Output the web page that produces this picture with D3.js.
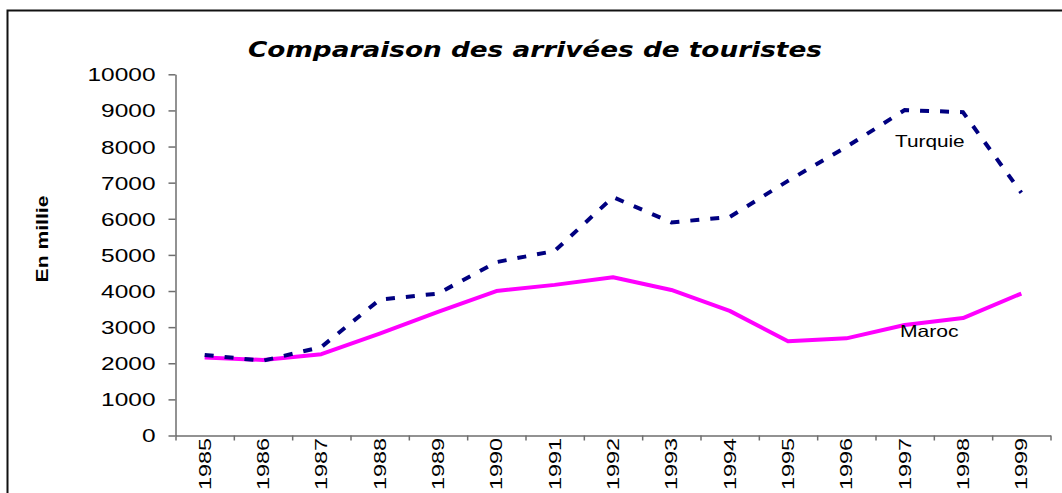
<!DOCTYPE html>
<html>
<head>
<meta charset="utf-8">
<script src="https://cdn.jsdelivr.net/npm/d3@7"></script>
<style>
  html, body { margin: 0; padding: 0; background: #fff; }
  svg { display: block; }
</style>
</head>
<body>
<svg id="chart" width="1062" height="493"></svg>
<script>
// ---- data ----
const years = ["1985","1986","1987","1988","1989","1990","1991","1992","1993","1994","1995","1996","1997","1998","1999"];
const turquie = [2230, 2070, 2450, 3760, 3930, 4800, 5110, 6600, 5900, 6050, 7050, 7990, 9010, 8950, 6720];
const maroc   = [2160, 2090, 2250, 2820, 3420, 4000, 4170, 4380, 4030, 3450, 2610, 2690, 3060, 3250, 3930];
const yTicks  = [0,1000,2000,3000,4000,5000,6000,7000,8000,9000,10000];
const titleText = "Comparaison des arrivées de touristes";
const yAxisTitle = "En millie";
const seriesNames = ["Turquie", "Maroc"];

// ---- layout ----
const svg = d3.select("#chart");
const plotL = 175.5, plotR = 1050.5, plotT = 74.3, plotB = 435.5;
const fontFam = "'Liberation Sans', Arial, sans-serif";

// frame
svg.append("rect")
  .attr("x", 7.5).attr("y", 10.5)
  .attr("width", 1100).attr("height", 600)
  .attr("fill", "none").attr("stroke", "#111").attr("stroke-width", 2);

const x = d3.scaleBand().domain(years).range([plotL, plotR]).padding(0);
const xb = d3.scaleLinear().domain([0, years.length]).range([plotL, plotR]);
const y = d3.scaleLinear().domain([0, 10000]).range([plotB, plotT]);

// y axis
const yAxis = svg.append("g")
  .attr("transform", `translate(${plotL},0)`)
  .call(d3.axisLeft(y).tickValues(yTicks).tickSize(7).tickSizeOuter(0).tickFormat(d3.format("d")));
yAxis.select(".domain").attr("stroke", "#6e6e6e").attr("stroke-width", 1.5);
yAxis.selectAll(".tick line").attr("stroke", "#6e6e6e").attr("stroke-width", 1.5);
const sY = 1.36;
yAxis.selectAll(".tick text")
  .attr("x", -20 / sY)
  .attr("dy", "0.36em")
  .attr("transform", `scale(${sY},1)`)
  .attr("font-family", fontFam)
  .attr("font-size", 18)
  .attr("fill", "#000");

// x axis boundary ticks
const xTickAxis = svg.append("g")
  .attr("transform", `translate(0,${plotB})`)
  .call(d3.axisBottom(xb).tickValues(d3.range(0, years.length + 1)).tickSize(5).tickSizeOuter(0).tickFormat(""));
xTickAxis.select(".domain").attr("stroke", "#6e6e6e").attr("stroke-width", 1.5);
xTickAxis.selectAll(".tick line").attr("stroke", "#6e6e6e").attr("stroke-width", 1.5);

// x axis labels
const xLab = svg.append("g")
  .attr("transform", `translate(0,${plotB})`)
  .call(d3.axisBottom(x).tickSize(0).tickSizeOuter(0));
xLab.select(".domain").remove();
const sX = 1.42;
xLab.selectAll(".tick text")
  .attr("text-anchor", "end")
  .attr("x", -2.5 / sX)
  .attr("y", 0)
  .attr("dy", "0.36em")
  .attr("transform", `rotate(-90) scale(${sX},1)`)
  .attr("font-family", fontFam)
  .attr("font-size", 16.5)
  .attr("fill", "#000");

// lines
const cx = d => x(d) + x.bandwidth() / 2;
const line = d3.line().x((d, i) => cx(years[i])).y(d => y(d));

svg.append("path")
  .datum(maroc)
  .attr("d", line)
  .attr("fill", "none")
  .attr("stroke", "#ff00ff")
  .attr("stroke-width", 4)
  .attr("stroke-linejoin", "round");

svg.append("path")
  .datum(turquie)
  .attr("d", line)
  .attr("fill", "none")
  .attr("stroke", "#000080")
  .attr("stroke-width", 4)
  .attr("stroke-dasharray", "9,11");

// series labels
function stretchedText(tx, ty, txt, size, s, opts = {}) {
  const g = svg.append("g").attr("transform", `translate(${tx},${ty})${opts.rotate ? ` rotate(${opts.rotate})` : ""} scale(${s},1)`);
  return g.append("text")
    .attr("text-anchor", opts.anchor || "start")
    .attr("font-family", opts.family || fontFam)
    .attr("font-size", size)
    .attr("font-weight", opts.weight || "normal")
    .attr("fill", "#000")
    .text(txt);
}
stretchedText(895, 147, seriesNames[0], 16.5, 1.26);
stretchedText(900, 337, seriesNames[1], 16.5, 1.28);

// y axis title
stretchedText(48, 239, yAxisTitle, 16.5, 1.28, { rotate: -90, anchor: "middle", weight: "bold" });

// chart title
svg.append("text")
  .attr("x", 248).attr("y", 57)
  .attr("font-family", "'DejaVu Sans', sans-serif")
  .attr("font-weight", "bold")
  .attr("font-style", "italic")
  .attr("font-size", 22)
  .attr("textLength", 574)
  .attr("lengthAdjust", "spacingAndGlyphs")
  .attr("fill", "#000")
  .text(titleText);
</script>
</body>
</html>
